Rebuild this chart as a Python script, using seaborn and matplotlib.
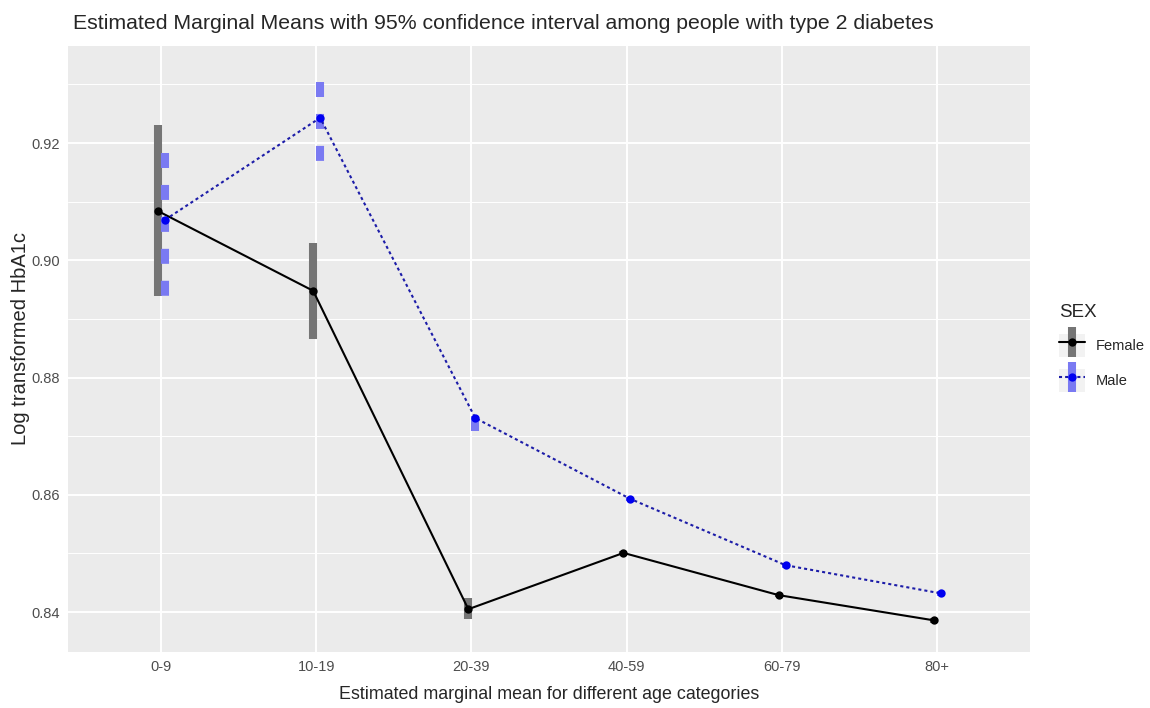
"""
Estimated marginal means of log HbA1c by age group and sex
"""
import matplotlib.pyplot as plt
import pandas as pd
import seaborn as sns
from matplotlib.lines import Line2D
from matplotlib.patches import Rectangle
from matplotlib.ticker import MultipleLocator

ages = ["0-9", "10-19", "20-39", "40-59", "60-79", "80+"]
female_mean = [0.9084, 0.8948, 0.8405, 0.8501, 0.8429, 0.8386]
female_low = [0.8939, 0.8866, 0.8388, 0.8497, 0.8425, 0.8382]
female_high = [0.9230, 0.9029, 0.8424, 0.8505, 0.8433, 0.8390]
male_mean = [0.9069, 0.9243, 0.8731, 0.8593, 0.8480, 0.8432]
male_low = [0.8934, 0.9166, 0.8709, 0.8589, 0.8476, 0.8428]
male_high = [0.9183, 0.9304, 0.8734, 0.8597, 0.8484, 0.8436]

offsets = {"Female": -0.02, "Male": 0.025}
rows = []
for i, a in enumerate(ages):
    rows.append({"age": a, "sex": "Female", "x": i + offsets["Female"],
                 "emmean": female_mean[i], "low": female_low[i], "high": female_high[i]})
    rows.append({"age": a, "sex": "Male", "x": i + offsets["Male"],
                 "emmean": male_mean[i], "low": male_low[i], "high": male_high[i]})
df = pd.DataFrame(rows)

sns.set_theme(style="darkgrid")
plt.rcParams['font.family'] = ['Liberation Sans', 'DejaVu Sans']
plt.rcParams['lines.scale_dashes'] = False

fig = plt.figure(figsize=(11.5, 7.08), dpi=100)
ax = fig.add_axes([68 / 1150, 1 - 652 / 708, (1030 - 68) / 1150, (652 - 46) / 708])
ax.set_facecolor('#EBEBEB')

bar_col = {"Female": "#757575", "Male": "#7a7af2"}
line_col = {"Female": "black", "Male": "#1c1ca8"}
pt_col = {"Female": "black", "Male": "#0000f0"}
male_dash = (0, (10.8, 12.2))
male_dot = (0, (2.2, 2.2))

# confidence intervals
for _, r in df.iterrows():
    ls = "-" if r["sex"] == "Female" else male_dash
    ax.plot([r["x"], r["x"]], [r["high"], r["low"]], color=bar_col[r["sex"]],
            lw=5.8, ls=ls, solid_capstyle='butt', dash_capstyle='butt', zorder=2)

for sex in ["Female", "Male"]:
    sub = df[df["sex"] == sex]
    sns.lineplot(data=sub, x="x", y="emmean", color=line_col[sex], lw=1.5,
                 ls="-" if sex == "Female" else male_dot, ax=ax, zorder=3)
    sns.scatterplot(data=sub, x="x", y="emmean", color=pt_col[sex], s=36,
                    linewidth=0, ax=ax, zorder=4)

ax.set_xticks(range(len(ages)))
ax.set_xticklabels(ages)
ax.yaxis.set_major_locator(MultipleLocator(0.02))
ax.yaxis.set_minor_locator(MultipleLocator(0.01))
ax.set_xlim(-0.6, 5.6)
ax.set_ylim(0.8332, 0.93655)
ax.set_yticks([0.84, 0.86, 0.88, 0.90, 0.92])
ax.set_yticklabels(["0.84", "0.86", "0.88", "0.90", "0.92"])
ax.grid(which='major', color='white', lw=1.4)
ax.grid(which='minor', axis='y', color='white', lw=0.7)
ax.tick_params(axis='both', which='major', length=3.5, width=0.8, color='#333333',
               labelcolor='#4D4D4D', labelsize=10.5, pad=2)
ax.tick_params(which='minor', length=0)
for s in ax.spines.values():
    s.set_visible(False)

ax.set_xlabel("Estimated marginal mean for different age categories", fontsize=12.9, labelpad=9)
ax.set_ylabel("Log transformed HbA1c", fontsize=14.5)
ax.yaxis.set_label_coords(-0.0395, 0.518)
ax.set_title("Estimated Marginal Means with 95% confidence interval among people with type 2 diabetes",
             fontsize=15.3, loc='left', pad=12, x=0.005)

handles = []
for sex in ["Female", "Male"]:
    bg = Rectangle((0, 0), 1, 1, facecolor='#F2F2F2', edgecolor='none')
    bar = Line2D([], [], color=bar_col[sex], marker='|', ls='none', markersize=21,
                 markeredgewidth=5.8)
    ln = Line2D([], [], color=line_col[sex], ls="-" if sex == "Female" else male_dot,
                lw=1.5, marker='o', markersize=6, markerfacecolor=pt_col[sex], markeredgewidth=0)
    handles.append((bg, bar, ln))
leg = fig.legend(handles, ["Female", "Male"], title="SEX", loc='center left',
                 bbox_to_anchor=(0.9095, 0.508), frameon=False, fontsize=10.5,
                 title_fontsize=13.5, handlelength=1.8, handleheight=2.05,
                 labelspacing=0.85, handletextpad=0.7, alignment='left')

plt.savefig("out.png", dpi=100)
